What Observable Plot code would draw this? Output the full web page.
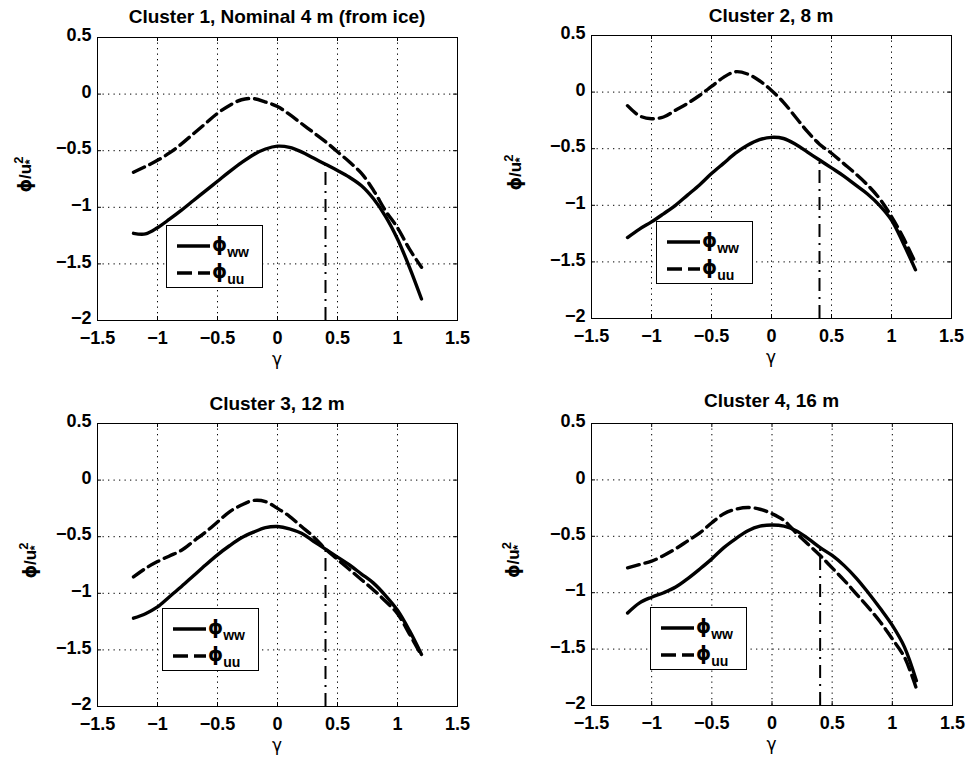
<!DOCTYPE html>
<html>
<head>
<meta charset="utf-8">
<script src="https://cdn.jsdelivr.net/npm/d3@7"></script>
<script src="https://cdn.jsdelivr.net/npm/@observablehq/plot@0.6"></script>
<style>
  html, body { margin: 0; padding: 0; background: #fff; }
  #fig { position: relative; width: 968px; height: 759px; background: #fff; font-family: "Liberation Sans", Arial, sans-serif; }
  .panel { position: absolute; }
  .legend { position: absolute; width: 97px; height: 63px; border: 1px solid #000; background: #fff; box-sizing: border-box; }
  .legend .row { position: absolute; left: 0; height: 22px; width: 96px; }
  .legend svg { position: absolute; left: 10px; top: 0; }
  .legend .lab { position: absolute; left: 45px; top: -2px; font-size: 19px; font-weight: bold; line-height: 20px; font-family: "DejaVu Sans", sans-serif; }
  .legend sub { font-size: 14px; vertical-align: -6px; line-height: 0; font-family: "Liberation Sans", Arial, sans-serif; }
</style>
</head>
<body>
<div id="fig"></div>
<script>
// ---- data ----
const titles = [
  "Cluster 1, Nominal 4 m (from ice)",
  "Cluster 2, 8 m",
  "Cluster 3, 12 m",
  "Cluster 4, 16 m"
];
const gamma = [-1.2, -1.1, -1.0, -0.9, -0.8, -0.7, -0.6, -0.5, -0.4, -0.3, -0.2, -0.1, 0, 0.1, 0.2, 0.3, 0.4, 0.5, 0.6, 0.7, 0.8, 0.9, 1.0, 1.1, 1.2];

const ww1 = [-1.23, -1.235, -1.18, -1.105, -1.025, -0.94, -0.855, -0.77, -0.685, -0.605, -0.535, -0.485, -0.46, -0.47, -0.51, -0.565, -0.62, -0.675, -0.735, -0.81, -0.925, -1.08, -1.28, -1.53, -1.81];
const uu1 = [-0.69, -0.64, -0.585, -0.52, -0.44, -0.35, -0.26, -0.17, -0.10, -0.05, -0.04, -0.07, -0.11, -0.18, -0.26, -0.34, -0.42, -0.51, -0.60, -0.70, -0.85, -1.03, -1.18, -1.37, -1.53];

const ww2 = [-1.285, -1.21, -1.147, -1.075, -1.0, -0.91, -0.82, -0.72, -0.63, -0.54, -0.47, -0.42, -0.40, -0.41, -0.46, -0.53, -0.60, -0.67, -0.74, -0.82, -0.90, -1.0, -1.13, -1.34, -1.57];
const uu2 = [-0.12, -0.21, -0.235, -0.22, -0.16, -0.10, -0.03, 0.05, 0.13, 0.18, 0.16, 0.10, 0.015, -0.09, -0.22, -0.35, -0.46, -0.54, -0.63, -0.72, -0.82, -0.94, -1.10, -1.29, -1.51];

const ww3 = [-1.22, -1.18, -1.12, -1.03, -0.94, -0.845, -0.75, -0.66, -0.58, -0.51, -0.46, -0.42, -0.41, -0.43, -0.47, -0.54, -0.61, -0.68, -0.75, -0.83, -0.91, -1.02, -1.15, -1.33, -1.54];
const uu3 = [-0.855, -0.78, -0.72, -0.67, -0.62, -0.54, -0.46, -0.37, -0.28, -0.22, -0.18, -0.19, -0.25, -0.32, -0.41, -0.50, -0.61, -0.70, -0.79, -0.88, -0.97, -1.07, -1.18, -1.36, -1.55];

const ww4 = [-1.18, -1.09, -1.04, -1.0, -0.95, -0.875, -0.79, -0.70, -0.60, -0.52, -0.45, -0.41, -0.40, -0.41, -0.45, -0.52, -0.60, -0.67, -0.76, -0.87, -1.0, -1.14, -1.29, -1.48, -1.78];
const uu4 = [-0.78, -0.75, -0.72, -0.67, -0.61, -0.54, -0.47, -0.38, -0.30, -0.26, -0.245, -0.26, -0.30, -0.36, -0.47, -0.57, -0.67, -0.78, -0.89, -1.01, -1.13, -1.26, -1.41, -1.57, -1.85];

const wwSeries = [ww1, ww2, ww3, ww4];
const uuSeries = [uu1, uu2, uu3, uu4];

const cutoffGamma = 0.4;
const cutoffTop = [-0.63, -0.595, -0.60, -0.60];

const xTicks = [-1.5, -1, -0.5, 0, 0.5, 1, 1.5];
const yTicks = [-2, -1.5, -1, -0.5, 0, 0.5];
const legendLabels = [["\u03D5", "ww"], ["\u03D5", "uu"]];

// ---- layout ----
const panels = [
  {left: 0,   top: 0,   w: 484, h: 380, mL: 97,  mR: 27, mT: 37, mB: 60, titleY: 16, ylabX: 25, legL: 166, legT: 225},
  {left: 484, top: 0,   w: 484, h: 380, mL: 107, mR: 17, mT: 35, mB: 62, titleY: 15, ylabX: 31, legL: 172, legT: 221},
  {left: 0,   top: 380, w: 484, h: 379, mL: 97,  mR: 27, mT: 43, mB: 53, titleY: 23, ylabX: 30, legL: 162, legT: 228},
  {left: 484, top: 380, w: 484, h: 379, mL: 107, mR: 16, mT: 43, mB: 54, titleY: 20, ylabX: 29, legL: 166, legT: 227}
];

const fmt = d => (d < 0 ? "\u2212" : "") + Math.abs(d);
const fig = document.getElementById("fig");

panels.forEach((p, k) => {
  const fw = p.w - p.mL - p.mR;
  const fh = p.h - p.mT - p.mB;
  const ww = gamma.map((g, i) => ({g, v: wwSeries[k][i]}));
  const uu = gamma.map((g, i) => ({g, v: uuSeries[k][i]}));
  const cut = [{g: cutoffGamma, y1: yTicks[0], y2: cutoffTop[k]}];
  const innerX = xTicks.slice(1, -1);
  const innerY = yTicks.slice(1, -1);
  const tick = 4;

  const plot = Plot.plot({
    width: p.w, height: p.h,
    marginLeft: p.mL, marginRight: p.mR, marginTop: p.mT, marginBottom: p.mB,
    x: {domain: [-1.5, 1.5]},
    y: {domain: [-2, 0.5]},
    style: {fontFamily: "'Liberation Sans', Arial, sans-serif", fontSize: "18px", fontWeight: "bold", color: "#000", background: "#fff", overflow: "visible"},
    marks: [
      Plot.gridX(innerX, {stroke: "#000", strokeOpacity: 1, strokeWidth: 1, strokeDasharray: "1.3,4.2"}),
      Plot.gridY(innerY, {stroke: "#000", strokeOpacity: 1, strokeWidth: 1, strokeDasharray: "1.3,4.2"}),
      Plot.tickX(xTicks, {x: d => d, stroke: "#000", insetTop: fh - tick}),
      Plot.tickX(xTicks, {x: d => d, stroke: "#000", insetBottom: fh - tick}),
      Plot.tickY(yTicks, {y: d => d, stroke: "#000", insetRight: fw - tick}),
      Plot.tickY(yTicks, {y: d => d, stroke: "#000", insetLeft: fw - tick}),
      Plot.axisX(xTicks, {tickSize: 0, tickPadding: 11, tickFormat: fmt, label: null}),
      Plot.axisY(yTicks, {tickSize: 0, tickPadding: 6, dy: -2, tickFormat: fmt, label: null}),
      Plot.ruleX(cut, {x: "g", y1: "y1", y2: "y2", stroke: "#000", strokeWidth: 2, strokeDasharray: "13,6,2,6"}),
      Plot.line(uu, {x: "g", y: "v", curve: "catmull-rom", stroke: "#000", strokeWidth: 3.4, strokeDasharray: "12,6"}),
      Plot.line(ww, {x: "g", y: "v", curve: "catmull-rom", stroke: "#000", strokeWidth: 3.4}),
      Plot.frame({stroke: "#000", strokeWidth: 1})
    ]
  });

  const div = document.createElement("div");
  div.className = "panel";
  div.style.left = p.left + "px";
  div.style.top = p.top + "px";
  div.style.width = p.w + "px";
  div.style.height = p.h + "px";
  div.appendChild(plot);
  fig.appendChild(div);

  const svg = d3.select(plot);
  const cx = p.mL + fw / 2;
  svg.append("text")
    .attr("x", cx).attr("y", p.titleY)
    .attr("text-anchor", "middle").attr("dominant-baseline", "central")
    .style("font-size", "19px").style("font-weight", "bold")
    .text(titles[k]);
  svg.append("text")
    .attr("x", cx).attr("y", p.mT + fh + 39)
    .attr("text-anchor", "middle").attr("dominant-baseline", "central")
    .style("font-size", "17px").style("font-weight", "normal")
    .style("font-family", "'DejaVu Sans', sans-serif")
    .text("γ");
  const yl = svg.append("text")
    .attr("transform", `translate(${p.ylabX},${p.mT + fh / 2 - 4}) rotate(-90)`)
    .attr("text-anchor", "middle").attr("dominant-baseline", "central")
    .style("font-size", "17px").style("font-weight", "bold");
  yl.append("tspan").style("font-family", "'DejaVu Sans', sans-serif").text("\u03D5");
  yl.append("tspan").text("/u");
  yl.append("tspan").attr("dy", "-7").style("font-size", "13px").text("2");
  yl.append("tspan").attr("dx", "-8").attr("dy", "11").style("font-size", "13px").text("*");

  // legend box
  const leg = document.createElement("div");
  leg.className = "legend";
  leg.style.left = p.legL + "px";
  leg.style.top = p.legT + "px";
  [0, 1].forEach(r => {
    const row = document.createElement("div");
    row.className = "row";
    row.style.top = (r === 0 ? 10 : 37) + "px";
    const s = d3.create("svg").attr("width", 34).attr("height", 20);
    s.append("line").attr("x1", 0).attr("x2", 33).attr("y1", 10).attr("y2", 10)
      .attr("stroke", "#000").attr("stroke-width", 3.4)
      .attr("stroke-dasharray", r === 0 ? null : "15,6");
    row.appendChild(s.node());
    const lab = document.createElement("div");
    lab.className = "lab";
    lab.innerHTML = legendLabels[r][0] + "<sub>" + legendLabels[r][1] + "</sub>";
    row.appendChild(lab);
    leg.appendChild(row);
  });
  div.appendChild(leg);
});
</script>
</body>
</html>
